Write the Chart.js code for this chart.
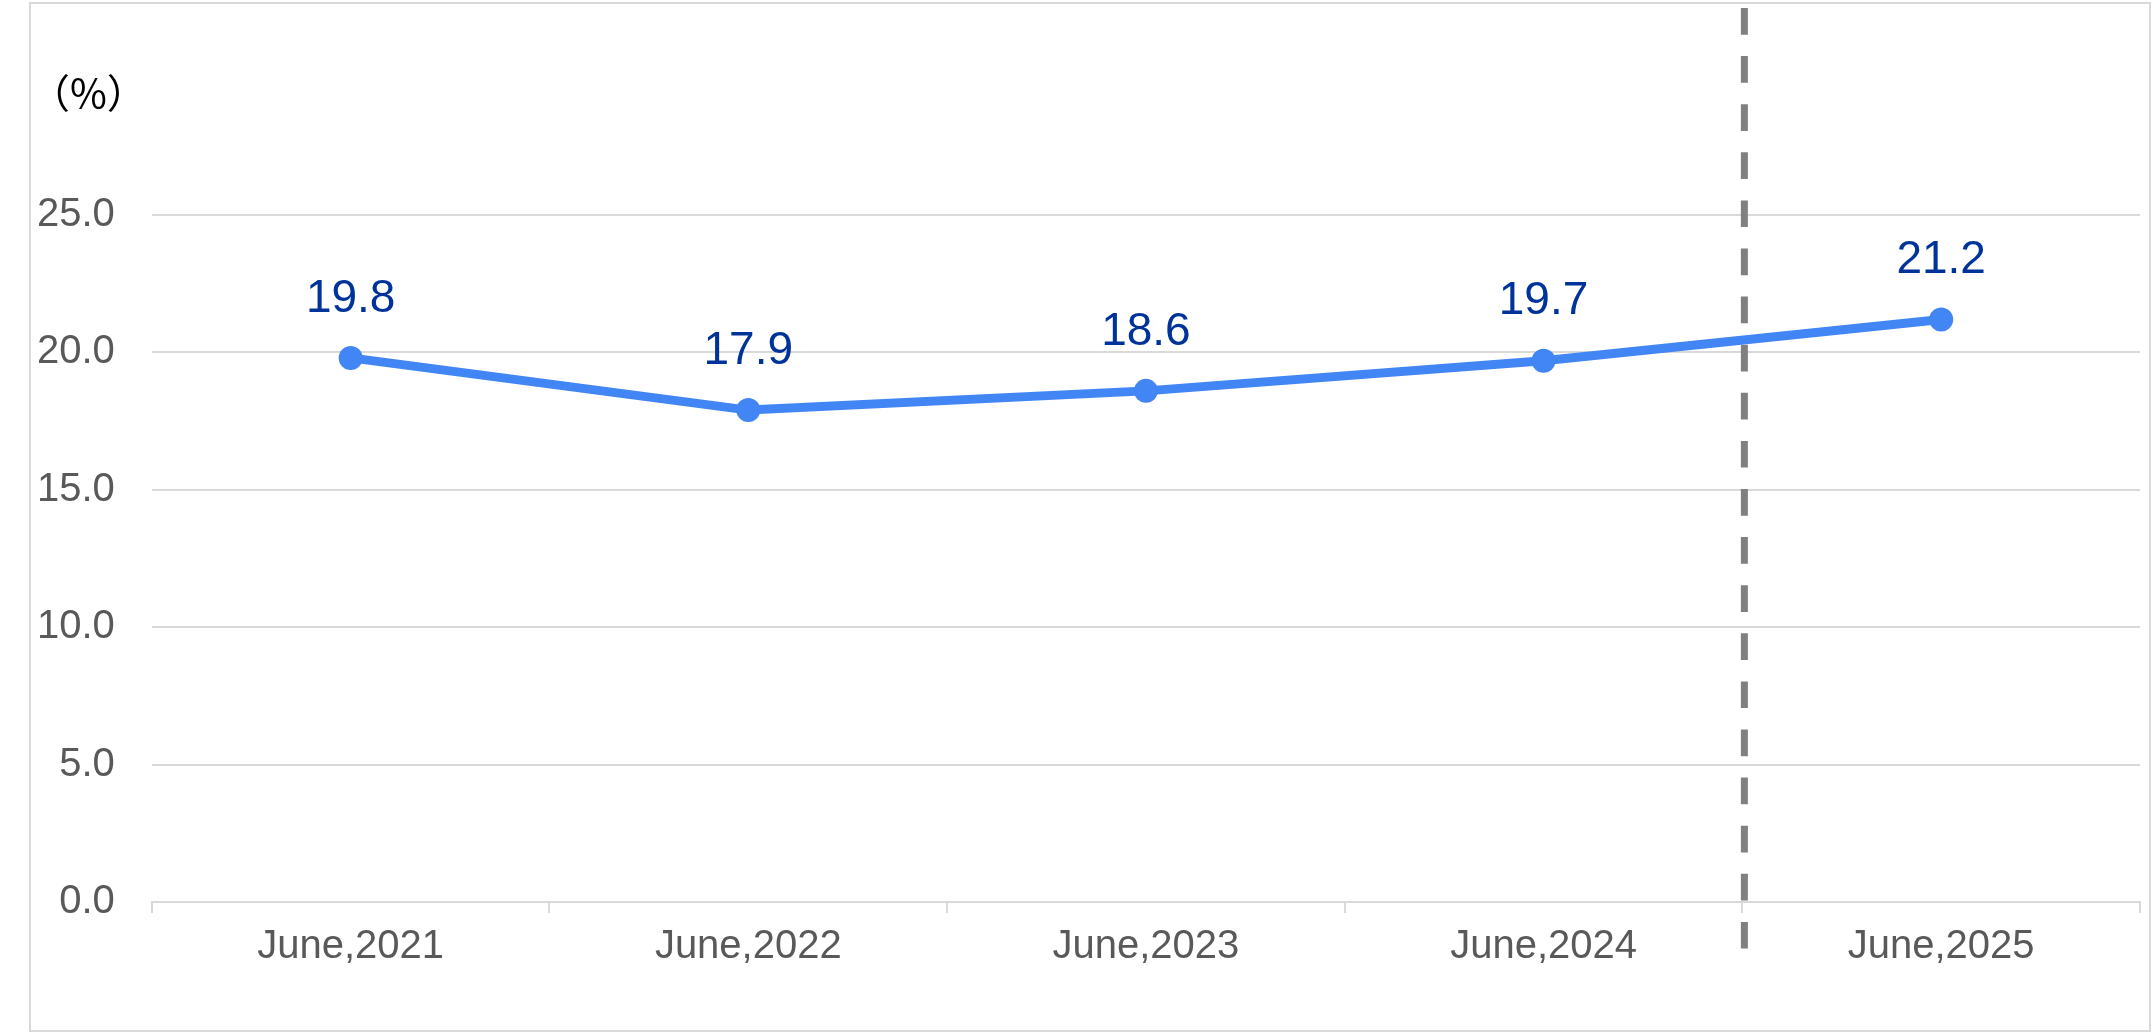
<!DOCTYPE html>
<html>
<head>
<meta charset="utf-8">
<script src="https://cdn.jsdelivr.net/npm/chart.js@4.4.1/dist/chart.umd.min.js"></script>
<style>
  html, body { margin: 0; padding: 0; background: #ffffff; }
  #wrap { position: relative; width: 2152px; height: 1034px; }
  #frame { position: absolute; left: 29px; top: 2px; width: 2118px; height: 1026px; border: 2px solid #d9d9d9; pointer-events: none; }
  canvas { position: absolute; left: 0; top: 0; }
</style>
</head>
<body>
<div id="wrap">
  <canvas id="c" width="2152" height="1034"></canvas>
  <div id="frame"></div>
</div>
<script>
const categories = ["June,2021", "June,2022", "June,2023", "June,2024", "June,2025"];
const rateValues = [19.8, 17.9, 18.6, 19.7, 21.2];
const yTickValues = [0, 5, 10, 15, 20, 25];
const unitLabel = "（%）";

const FONT = "'Liberation Sans', Arial, sans-serif";

const unitPlugin = {
  id: 'unitLabel',
  afterDraw(chart) {
    const ctx = chart.ctx;
    ctx.save();
    ctx.font = "40px 'Noto Sans CJK JP', " + FONT;
    ctx.fillStyle = '#000000';
    ctx.textAlign = 'left';
    ctx.textBaseline = 'middle';
    ctx.fillText(unitLabel, 30, 93);
    ctx.restore();
  }
};

const dividerPlugin = {
  id: 'divider',
  beforeDatasetsDraw(chart) {
    const xs = chart.scales.x;
    const x = (xs.getPixelForValue(3) + xs.getPixelForValue(4)) / 2 + 2;
    const ctx = chart.ctx;
    ctx.save();
    ctx.strokeStyle = '#808080';
    ctx.lineWidth = 7;
    ctx.setLineDash([26.7, 21.4]);
    ctx.lineCap = 'butt';
    ctx.beginPath();
    ctx.moveTo(x, 8);
    ctx.lineTo(x, 949);
    ctx.stroke();
    ctx.restore();
  }
};

const valueLabelPlugin = {
  id: 'valueLabels',
  afterDatasetsDraw(chart) {
    const ctx = chart.ctx;
    const meta = chart.getDatasetMeta(0);
    ctx.save();
    ctx.font = "46px " + FONT;
    ctx.fillStyle = '#003399';
    ctx.textAlign = 'center';
    ctx.textBaseline = 'middle';
    meta.data.forEach((pt, i) => {
      ctx.fillText(rateValues[i].toFixed(1), pt.x, pt.y - 59);
    });
    ctx.restore();
  }
};

new Chart(document.getElementById('c'), {
  type: 'line',
  data: {
    labels: categories,
    datasets: [{
      data: rateValues,
      borderColor: '#4285F4',
      backgroundColor: '#4285F4',
      borderWidth: 9,
      pointRadius: 12,
      pointBorderWidth: 0,
      pointBackgroundColor: '#4285F4',
      tension: 0,
      fill: false
    }]
  },
  options: {
    responsive: false,
    animation: false,
    devicePixelRatio: 1,
    layout: { padding: { left: 0, right: 10, top: 215, bottom: 53 } },
    plugins: { legend: { display: false }, tooltip: { enabled: false }, title: { display: false } },
    scales: {
      x: {
        offset: true,
        grid: { display: true, drawOnChartArea: false, drawTicks: true, tickLength: 11, offset: true, color: '#d9d9d9', lineWidth: 2 },
        border: { display: true, color: '#d9d9d9', width: 2 },
        ticks: { color: '#595959', font: { family: FONT, size: 40 }, padding: 10, maxRotation: 0 }
      },
      y: {
        min: 0,
        max: 25,
        afterBuildTicks(scale) { scale.ticks = yTickValues.map(v => ({ value: v })); },
        grid: { color: '#d9d9d9', lineWidth: 2, drawTicks: false },
        border: { display: false },
        ticks: { color: '#595959', font: { family: FONT, size: 40 }, padding: 37, callback: v => Number(v).toFixed(1) }
      }
    }
  },
  plugins: [dividerPlugin, valueLabelPlugin, unitPlugin]
});
</script>
</body>
</html>
